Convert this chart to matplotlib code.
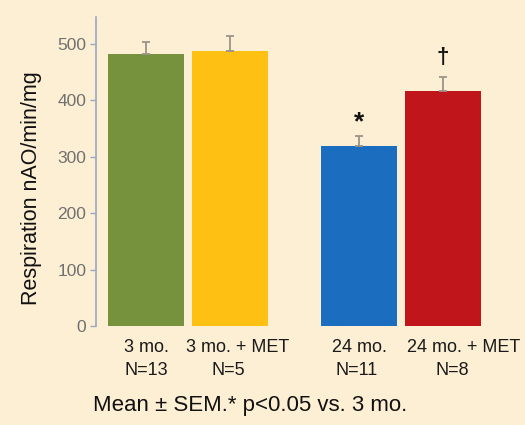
import matplotlib
matplotlib.use("Agg")
import matplotlib.pyplot as plt
from matplotlib.transforms import offset_copy

groups = ["3 mo.", "3 mo. + MET", "24 mo.", "24 mo. + MET"]
n_labels = ["N=13", "N=5", "N=11", "N=8"]
means = [482, 488, 319, 417]
sems = [22, 26, 18, 24]
markers = ["", "", "*", "\u2020"]
colors = ["#76923c", "#ffc014", "#1a6dbf", "#c0151a"]
footnote = "Mean \u00b1 SEM.* p<0.05 vs. 3 mo."

plt.rcParams['font.family'] = ['Liberation Sans', 'DejaVu Sans']
bg = "#fdefd4"

fig = plt.figure(figsize=(5.25, 4.25), dpi=100, facecolor=bg)
ax = fig.add_axes([0.183, 0.233, 0.817, 0.727], facecolor=bg)

xpos = [0, 1, 2.536, 3.536]
ax.bar(xpos, means, width=0.905, color=colors, zorder=2)
ax.errorbar(xpos, means, yerr=[[0] * 4, sems], fmt="none", ecolor="#9a9488",
            elinewidth=1.3, capsize=3, capthick=1.3, zorder=3)

for x, m, s, mk in zip(xpos, means, sems, markers):
    if mk:
        ax.annotate(mk, (x, m + s), xytext=(0, 1.5 if mk == "*" else 7),
                    textcoords="offset points", ha="center", va="bottom",
                    fontsize=19 if mk == "*" else 16, fontweight="bold", color="#111111")

ax.set_xlim(-0.595, 4.512)
ax.set_ylim(0, 548)
ax.set_yticks([0, 100, 200, 300, 400, 500])
ax.set_xticks(xpos)
ax.set_xticklabels([])
ax.tick_params(axis="x", length=0)

# category labels (first line shifted like the reference, second line centred)
name_shift_px = [0, 8, 0, 21]
n_shift_px = [0, -2, -2, 9]
xform = ax.get_xaxis_transform()
for x, g, n, ds, dn in zip(xpos, groups, n_labels, name_shift_px, n_shift_px):
    ax.text(x, 0, g, transform=offset_copy(xform, fig=fig, x=ds, y=-22, units="dots"),
            ha="center", va="center", fontsize=13, color="#1a1a1a", clip_on=False)
    ax.text(x, 0, n, transform=offset_copy(xform, fig=fig, x=dn, y=-45, units="dots"),
            ha="center", va="center", fontsize=13, color="#1a1a1a", clip_on=False)

ax.tick_params(axis="y", length=4, width=1, color="#9aa8c4", labelsize=12.5,
               labelcolor="#707070", direction="out", pad=3)
for sp in ["top", "right", "bottom"]:
    ax.spines[sp].set_visible(False)
ax.spines["left"].set_color("#9aa8c4")
ax.spines["left"].set_linewidth(1.2)

ax.set_ylabel("Respiration nAO/min/mg", fontsize=15.5, color="#111111")
ax.yaxis.set_label_coords(-0.126, 0.447)

fig.text(0.476, 0.047, footnote, ha="center", va="center", fontsize=16, color="#111111")

fig.savefig("out.png", dpi=100, facecolor=bg)
